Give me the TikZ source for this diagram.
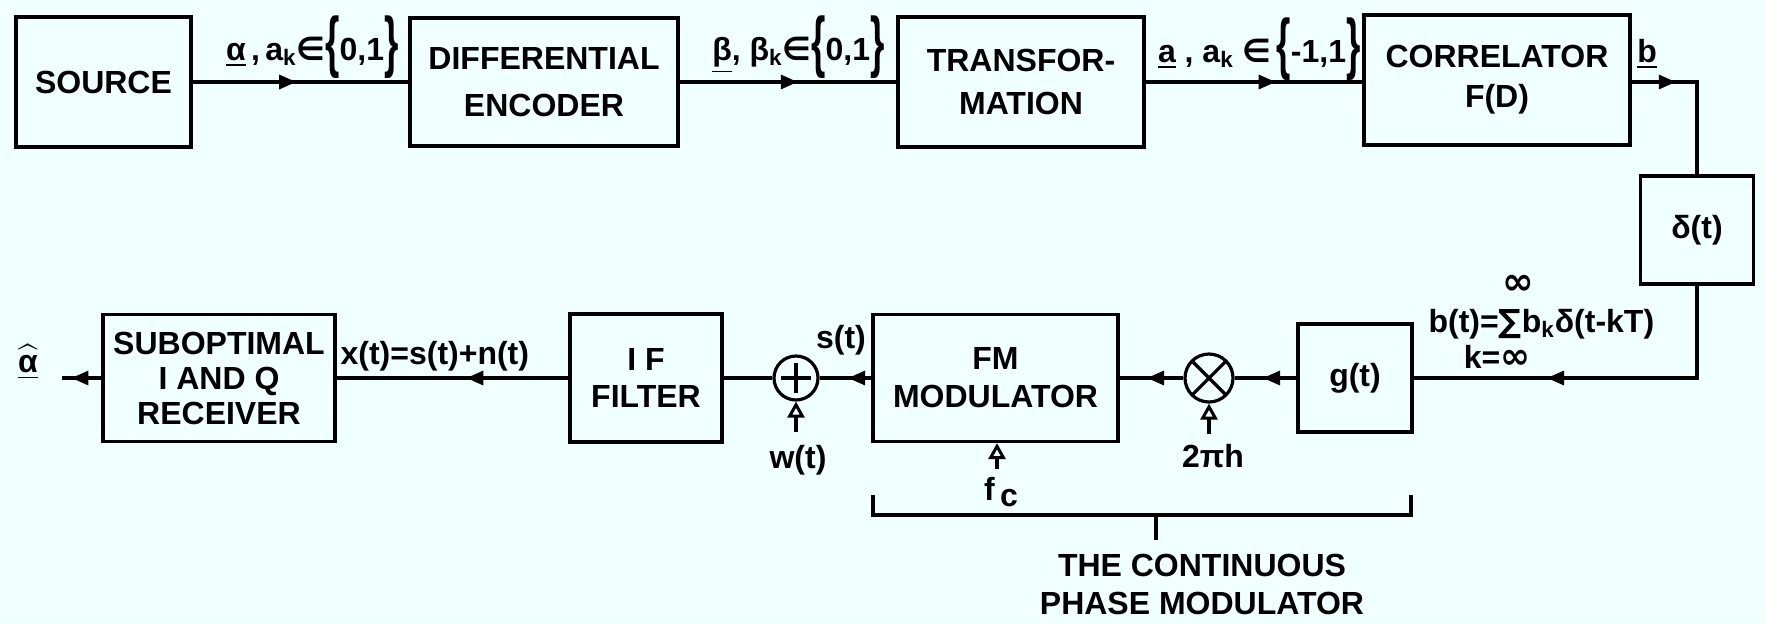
\documentclass[tikz,border=0pt]{standalone}
\usepackage{fontspec}
\setmainfont{Liberation Sans}
\newfontfamily\symf{DejaVu Sans}
\usepackage{amsmath}
\usepackage{graphicx}
\usetikzlibrary{arrows.meta,decorations.markings,calc}
\definecolor{bgc}{RGB}{240,255,255}
\newcommand\lbrc{\raisebox{-2pt}{\scalebox{1.15}[2.1]{\{}}}
\newcommand\rbrc{\raisebox{-2pt}{\scalebox{1.15}[2.1]{\}}}}
\newcommand\elem{{\symf\bfseries ∈}}
\newcommand\fsz[1]{\bfseries\fontsize{16}{#1}\selectfont}
\tikzset{
  blk/.style={draw, align=center, inner sep=0pt},
  midarr/.style={postaction={decorate}, decoration={markings,
      mark=at position #1 with {\arrow{Triangle[length=8.5pt,width=7pt]}}}},
  uparr/.style={-{Triangle[open,length=8pt,width=8.5pt,line width=1.5pt]}},
  lab/.style={inner sep=0pt},
  sumnode/.style={circle, draw, minimum size=22pt, inner sep=0pt,
      path picture={\draw ($(path picture bounding box.center)+(0,-7.5pt)$) -- ($(path picture bounding box.center)+(0,7.5pt)$);
                    \draw ($(path picture bounding box.center)+(-7.5pt,0)$) -- ($(path picture bounding box.center)+(7.5pt,0)$);}},
  mulnode/.style={circle, draw, minimum size=24pt, inner sep=0pt,
      path picture={\draw (path picture bounding box.south west) -- (path picture bounding box.north east);
                    \draw (path picture bounding box.north west) -- (path picture bounding box.south east);}}
}
\begin{document}
\begin{tikzpicture}[x=0.5pt, y=-0.5pt, line width=1.6pt, font=\fsz{19}]
\fill[bgc] (0,0) rectangle (1765,623);
\useasboundingbox (0,0) rectangle (1765,623);

% top row
\node[blk, minimum width=87.5pt, minimum height=65pt] (src) at (103.5,82) {SOURCE};
\node[blk, minimum width=134pt, minimum height=64pt, font=\fsz{23.5}] (denc) at (544,82) {DIFFERENTIAL\\ENCODER};
\node[blk, minimum width=123pt, minimum height=65pt, font=\fsz{21.5}] (trans) at (1021,82) {TRANSFOR-\\MATION};
\node[blk, minimum width=133pt, minimum height=65pt, font=\fsz{20}] (corr) at (1497,80) {CORRELATOR\\F(D)};
\node[blk, minimum width=56.5pt, minimum height=54pt] (delta) at (1697,230) {δ(t)};

% bottom row
\node[blk, minimum width=57pt, minimum height=54pt] (gt) at (1355,378) {g(t)};
\node[mulnode] (mul) at (1209,378) {};
\node[blk, minimum width=122.5pt, minimum height=63.5pt, font=\fsz{19}] (fm) at (995.5,378) {FM\\MODULATOR};
\node[sumnode] (sum) at (796,378) {};
\node[blk, minimum width=76pt, minimum height=64pt, font=\fsz{18.5}] (iff) at (646,378) {I F\\FILTER};
\node[blk, minimum width=116pt, minimum height=63.5pt, font=\fsz{17.5}] (rx) at (219,378) {SUBOPTIMAL\\I AND Q\\RECEIVER};
\coordinate (out) at (62,378);
\node[lab] (ahat) at (28,362) {$\underline{\widehat{\text{α}}}$};

% connectors
\draw[midarr=0.48] (src) -- (denc);
\draw[midarr=0.545] (denc) -- (trans);
\draw[midarr=0.6] (trans) -- (corr.west |- trans);
\draw[midarr=0.28] (corr.east |- trans) -| (delta.north);
\draw[midarr=0.645] (delta.south) |- (gt.east);
\draw[midarr=0.54] (gt) -- (mul);
\draw[midarr=0.57] (mul) -- (fm);
\draw[midarr=0.45] (fm) -- (sum);
\draw (sum) -- (iff);
\draw[midarr=0.44] (iff) -- (rx);
\draw[midarr=0.76] (rx) -- (out);

% side inputs
\coordinate (wsrc) at (796,432);
\draw[uparr] (wsrc) -- (sum);
\coordinate (hsrc) at (1209,434);
\draw[uparr] (hsrc) -- (mul);
\coordinate (fcsrc) at (997,469);
\draw[uparr] (fcsrc) -- (fcsrc |- fm.south);

% labels
\node[lab, anchor=base east] (l1) at (400,60) {\underline{α}\,,\,a\textsubscript{k}\elem\lbrc 0,1\rbrc};
\node[lab, anchor=base east] (l2) at (886,60) {\underline{β}, β\textsubscript{k}\elem\lbrc 0,1\rbrc};
\node[lab, anchor=base east] (l3) at (1362,62) {\underline{a} , a\textsubscript{k} \elem\,\lbrc -1,1\rbrc};
\node[lab, anchor=base] (lb) at (1647,62) {\underline{b}};
\node[lab, anchor=base west] (lx) at (339,364) {x(t)=s(t)+n(t)};
\node[lab, anchor=base] (ls) at (841,348) {s(t)};
\node[lab, anchor=base] (lw) at (798,468) {w(t)};
\node[lab, anchor=base] (lh) at (1213,467) {2πh};
\node[lab, anchor=base] (lfc) at (1001,500) {f\,\raisebox{-3pt}{c}};
\node[lab, anchor=base west] (lbeq) at (1427,332) {b(t)={\symf ∑}b\textsubscript{k}δ(t-kT)};
\node[lab, font=\symf\bfseries\fontsize{19}{20}\selectfont] (linf) at (1518,285) {∞};
\node[lab, anchor=base] (lkinf) at (1497,368) {k={\symf\fontsize{18}{20}\selectfont ∞}};

% bracket
\draw (873,495) -- (873,515) -- (1411,515) -- (1411,495);
\draw (1156,515) -- (1156,540);
\node[lab, align=center, font=\fsz{19}] (lcpm) at (1202,584) {THE CONTINUOUS\\PHASE MODULATOR};
\end{tikzpicture}
\end{document}
